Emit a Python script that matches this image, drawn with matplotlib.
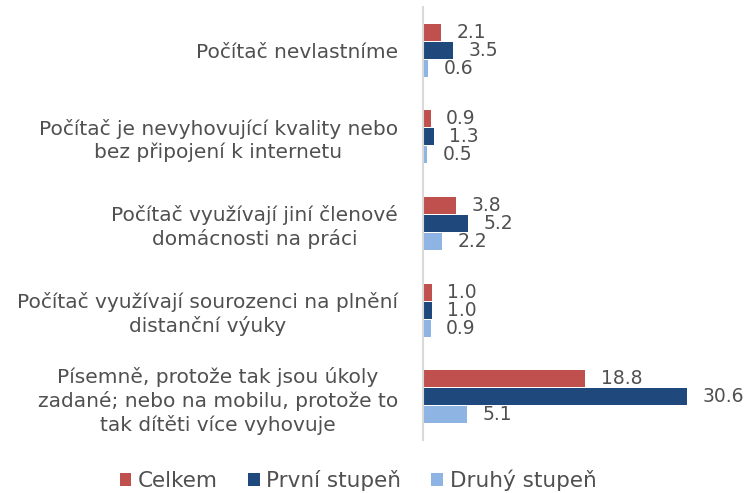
import matplotlib
import matplotlib.pyplot as plt
import numpy as np

matplotlib.use('agg')

categories = [
    'Počítač nevlastníme',
    'Počítač je nevyhovující kvality nebo\nbez připojení k internetu',
    'Počítač využívají jiní členové\ndomácnosti na práci',
    'Počítač využívají sourozenci na plnění\ndistanční výuky',
    'Písemně, protože tak jsou úkoly\nzadané; nebo na mobilu, protože to\ntak dítěti více vyhovuje',
]
series_names = ['Celkem', 'První stupeň', 'Druhý stupeň']
celkem = [2.1, 0.9, 3.8, 1.0, 18.8]
prvni = [3.5, 1.3, 5.2, 1.0, 30.6]
druhy = [0.6, 0.5, 2.2, 0.9, 5.1]
colors = ['#C0504D', '#1F497D', '#8DB4E2']
text_col = '#505050'

plt.rcParams['font.family'] = ['DejaVu Sans']

fig = plt.figure(figsize=(7.46, 4.93), dpi=100)
ax = fig.add_axes([0.567, 0.1075, 0.433, 0.8785])

y = np.arange(len(categories))
h = 0.208
for k, (vals, name, col) in enumerate(zip([celkem, prvni, druhy], series_names, colors)):
    pos = y + (k - 1) * h
    ax.barh(pos, vals, height=h * 0.94, color=col, label=name)
    for p, v in zip(pos, vals):
        ax.annotate(f'{v:.1f}', (v, p), xytext=(11, 0), textcoords='offset points',
                    va='center', ha='left', fontsize=13.5, color=text_col)

ax.set_ylim(len(categories) - 0.5, -0.5)
ax.set_xlim(0, 37.4)
ax.set_yticks(y)
ax.set_yticklabels(categories, fontsize=14.5, color=text_col, multialignment='center',
                   linespacing=1.25)
ax.tick_params(axis='y', length=0, pad=18)
ax.set_xticks([])
for s in ['top', 'right', 'bottom']:
    ax.spines[s].set_visible(False)
ax.spines['left'].set_color('#D9D9D9')
ax.spines['left'].set_linewidth(1.5)
ax.patch.set_alpha(0)

handles, labels = ax.get_legend_handles_labels()
fig.legend(handles, labels, loc='lower center', bbox_to_anchor=(0.48, -0.035), ncol=3,
           frameon=False, fontsize=15.5, handlelength=0.55, handleheight=0.55,
           handletextpad=0.3, columnspacing=1.4, labelcolor=text_col)

plt.savefig('out.png')
